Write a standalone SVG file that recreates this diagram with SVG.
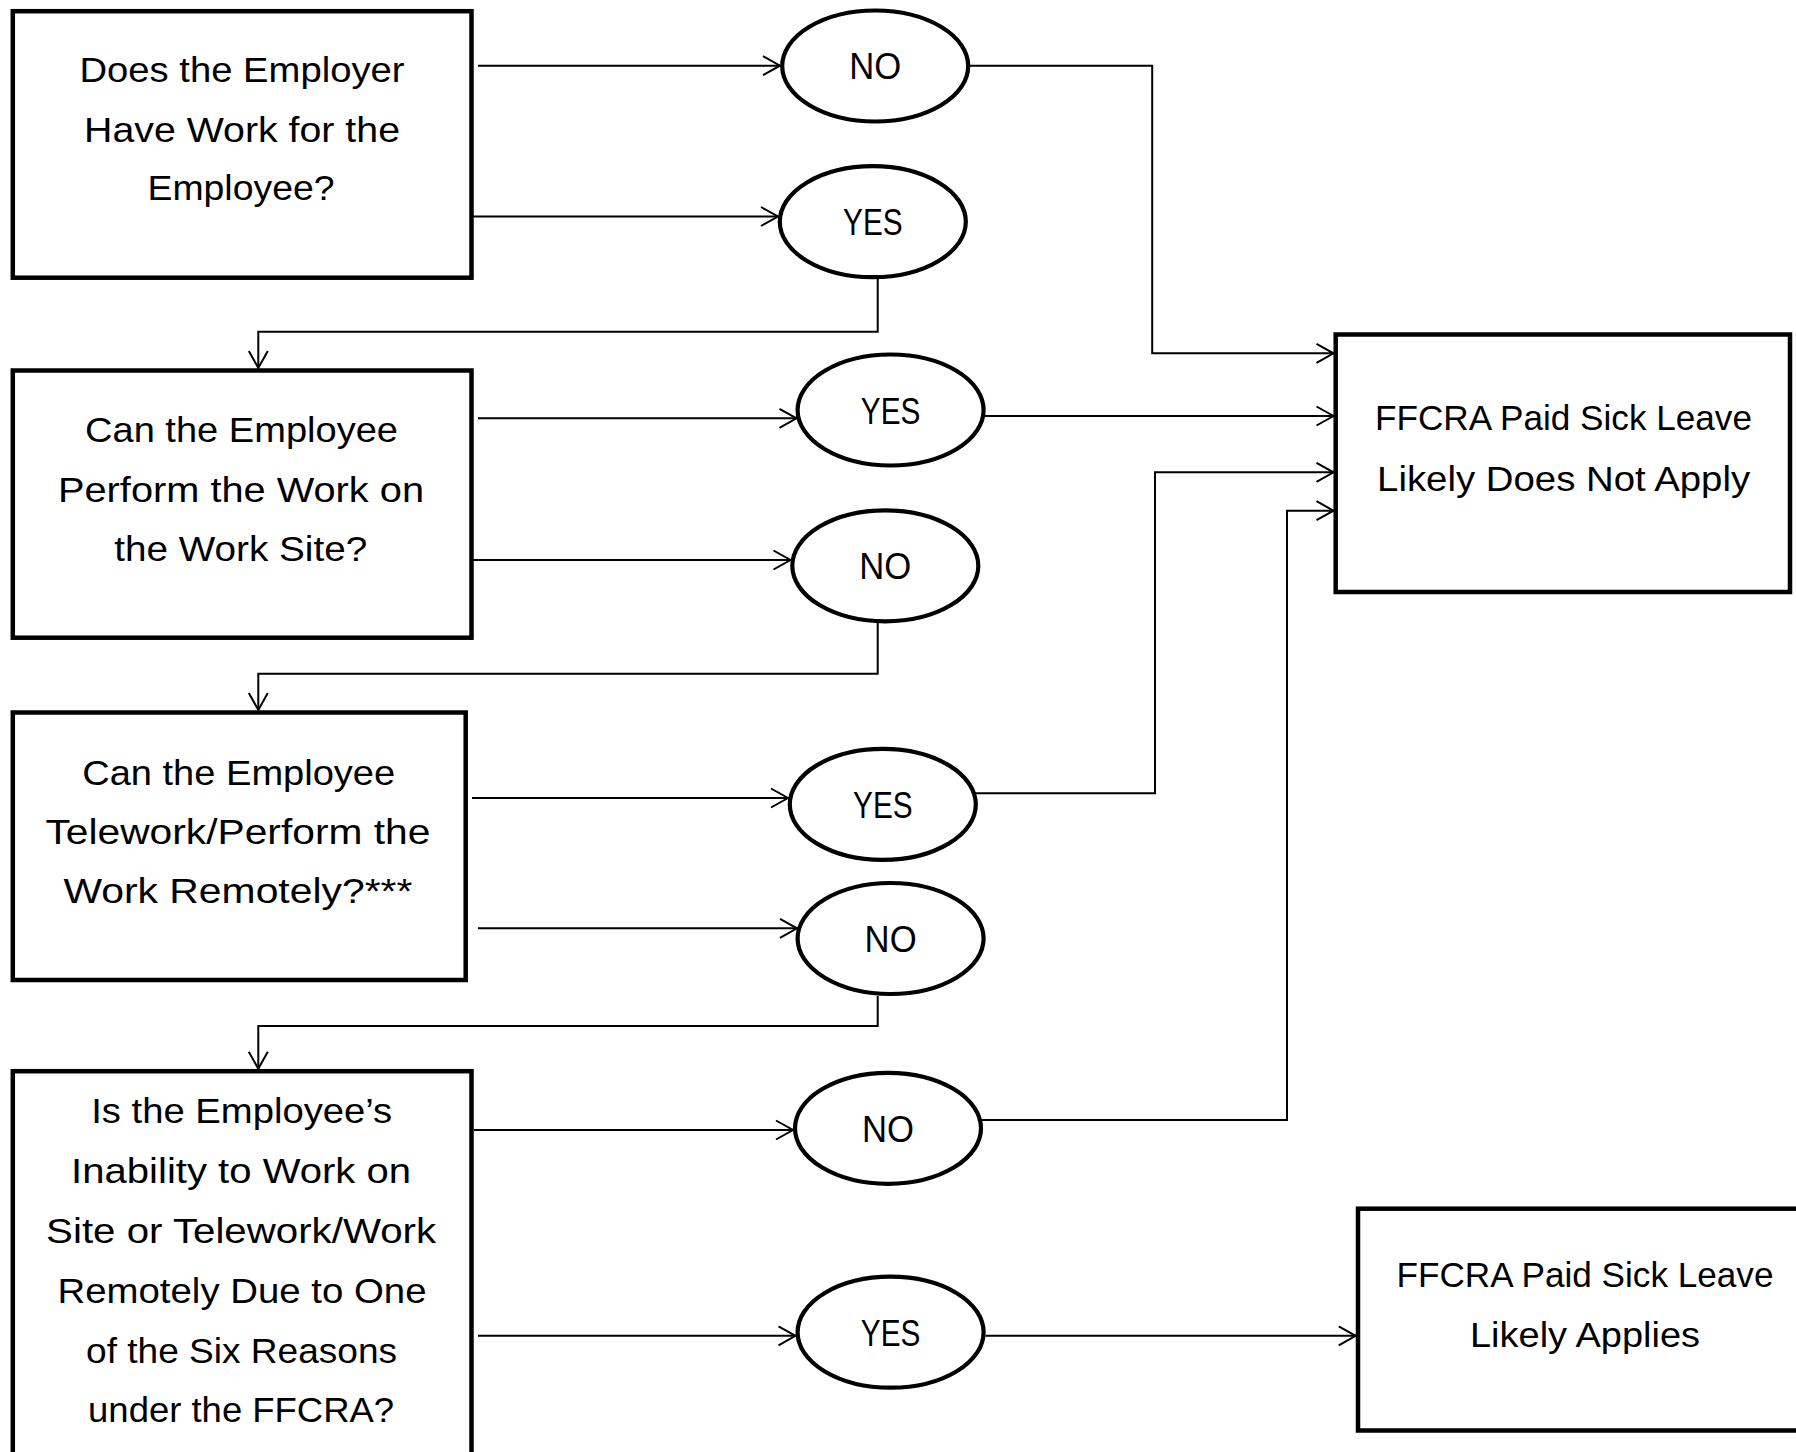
<svg xmlns="http://www.w3.org/2000/svg" width="1796" height="1452" viewBox="0 0 1796 1452">
<style>
.box{fill:#fff;stroke:#000;stroke-width:4.5;stroke-linejoin:miter}
.oval{fill:#fff;stroke:#000;stroke-width:4.2}
.t{font-family:"Liberation Sans",Arial,sans-serif;font-size:35px;fill:#000;text-anchor:middle}
.l{font-size:36px}
.c{fill:none;stroke:#000;stroke-width:2}
</style>
<defs>
<marker id="arr" markerUnits="userSpaceOnUse" viewBox="-1 -1 20 22" markerWidth="20" markerHeight="22" refX="17" refY="10" orient="auto" overflow="visible">
<path d="M0,0.5 L17,10 L0,19.5" fill="none" stroke="#000" stroke-width="2"/>
</marker>
</defs>
<rect width="1796" height="1452" fill="#fff"/>

<g id="q1">
<rect class="box" x="12.8" y="11.2" width="458.7" height="266.5"/>
<text class="t" x="242" y="81.7" textLength="325" lengthAdjust="spacingAndGlyphs">Does the Employer</text>
<text class="t" x="242" y="141.5" textLength="316" lengthAdjust="spacingAndGlyphs">Have Work for the</text>
<text class="t" x="241" y="200" textLength="187" lengthAdjust="spacingAndGlyphs">Employee?</text>
</g>
<g id="q2">
<rect class="box" x="12.8" y="370.5" width="458.7" height="267.2"/>
<text class="t" x="241.5" y="441.7" textLength="313" lengthAdjust="spacingAndGlyphs">Can the Employee</text>
<text class="t" x="241" y="501.7" textLength="366" lengthAdjust="spacingAndGlyphs">Perform the Work on</text>
<text class="t" x="240.7" y="560.7" textLength="253" lengthAdjust="spacingAndGlyphs">the Work Site?</text>
</g>
<g id="q3">
<rect class="box" x="12.8" y="712.5" width="452.9" height="267.5"/>
<text class="t" x="238.7" y="785" textLength="313" lengthAdjust="spacingAndGlyphs">Can the Employee</text>
<text class="t" x="237.9" y="844" textLength="385" lengthAdjust="spacingAndGlyphs">Telework/Perform the</text>
<text class="t" x="237.9" y="903.3" textLength="349" lengthAdjust="spacingAndGlyphs">Work Remotely?***</text>
</g>
<g id="q4">
<rect class="box" x="12.8" y="1071.2" width="458.7" height="420"/>
<text class="t" x="241.7" y="1123.3" textLength="301" lengthAdjust="spacingAndGlyphs">Is the Employee’s</text>
<text class="t" x="241.1" y="1183.3" textLength="340" lengthAdjust="spacingAndGlyphs">Inability to Work on</text>
<text class="t" x="241.1" y="1243.3" textLength="390" lengthAdjust="spacingAndGlyphs">Site or Telework/Work</text>
<text class="t" x="242" y="1303.3" textLength="369" lengthAdjust="spacingAndGlyphs">Remotely Due to One</text>
<text class="t" x="241.6" y="1363.3" textLength="311" lengthAdjust="spacingAndGlyphs">of the Six Reasons</text>
<text class="t" x="241.1" y="1421.7" textLength="306" lengthAdjust="spacingAndGlyphs">under the FFCRA?</text>
</g>

<g id="r1">
<rect class="box" x="1335.7" y="334.5" width="454.3" height="257.5"/>
<text class="t" x="1563.5" y="430" textLength="377" lengthAdjust="spacingAndGlyphs">FFCRA Paid Sick Leave</text>
<text class="t" x="1563.6" y="490.5" textLength="373" lengthAdjust="spacingAndGlyphs">Likely Does Not Apply</text>
</g>
<g id="r2">
<rect class="box" x="1358" y="1208.7" width="454" height="221.8"/>
<text class="t" x="1585" y="1286.7" textLength="377" lengthAdjust="spacingAndGlyphs">FFCRA Paid Sick Leave</text>
<text class="t" x="1585" y="1346.7" textLength="230" lengthAdjust="spacingAndGlyphs">Likely Applies</text>
</g>

<g id="a1no">
<ellipse class="oval" cx="875.2" cy="66" rx="93" ry="55.5"/>
<text class="t l" x="875.2" y="79.4" textLength="52" lengthAdjust="spacingAndGlyphs">NO</text>
</g>
<g id="a1yes">
<ellipse class="oval" cx="872.8" cy="221.7" rx="93" ry="55.5"/>
<text class="t l" x="872.8" y="235.1" textLength="59.5" lengthAdjust="spacingAndGlyphs">YES</text>
</g>
<g id="a2yes">
<ellipse class="oval" cx="890.6" cy="410" rx="93" ry="55.5"/>
<text class="t l" x="890.6" y="423.6" textLength="59.5" lengthAdjust="spacingAndGlyphs">YES</text>
</g>
<g id="a2no">
<ellipse class="oval" cx="885.3" cy="565.8" rx="93" ry="55.5"/>
<text class="t l" x="885.3" y="579.4" textLength="52" lengthAdjust="spacingAndGlyphs">NO</text>
</g>
<g id="a3yes">
<ellipse class="oval" cx="882.8" cy="804.4" rx="93" ry="55.5"/>
<text class="t l" x="882.8" y="818" textLength="59.5" lengthAdjust="spacingAndGlyphs">YES</text>
</g>
<g id="a3no">
<ellipse class="oval" cx="890.6" cy="938.5" rx="93" ry="55.5"/>
<text class="t l" x="890.6" y="952.1" textLength="52" lengthAdjust="spacingAndGlyphs">NO</text>
</g>
<g id="a4no">
<ellipse class="oval" cx="888" cy="1128.3" rx="93" ry="55.5"/>
<text class="t l" x="888" y="1141.9" textLength="52" lengthAdjust="spacingAndGlyphs">NO</text>
</g>
<g id="a4yes">
<ellipse class="oval" cx="890.6" cy="1332.2" rx="93" ry="55.5"/>
<text class="t l" x="890.6" y="1345.8" textLength="59.5" lengthAdjust="spacingAndGlyphs">YES</text>
</g>

<g id="connectors">
<path class="c" marker-end="url(#arr)" d="M478,65.7 H780"/>
<path class="c" marker-end="url(#arr)" d="M472,216.5 H778"/>
<path class="c" marker-end="url(#arr)" d="M877.7,279 V331.7 H258.3 V368"/>
<path class="c" marker-end="url(#arr)" d="M970,65.7 H1152.2 V353.3 H1333.5"/>
<path class="c" marker-end="url(#arr)" d="M478,418.3 H796.5"/>
<path class="c" marker-end="url(#arr)" d="M985,416 H1333.5"/>
<path class="c" marker-end="url(#arr)" d="M473,560 H790.5"/>
<path class="c" marker-end="url(#arr)" d="M877.7,623 V673.7 H258.3 V710"/>
<path class="c" marker-end="url(#arr)" d="M472,798 H788"/>
<path class="c" marker-end="url(#arr)" d="M974.5,793.3 H1155 V472.3 H1333.5"/>
<path class="c" marker-end="url(#arr)" d="M478,928.3 H797"/>
<path class="c" marker-end="url(#arr)" d="M877.7,996 V1026 H258.3 V1068.8"/>
<path class="c" marker-end="url(#arr)" d="M474,1130 H793"/>
<path class="c" marker-end="url(#arr)" d="M980,1120 H1287 V510.7 H1333.5"/>
<path class="c" marker-end="url(#arr)" d="M478,1335.8 H795.5"/>
<path class="c" marker-end="url(#arr)" d="M985.5,1335.8 H1355.7"/>
</g>
</svg>
